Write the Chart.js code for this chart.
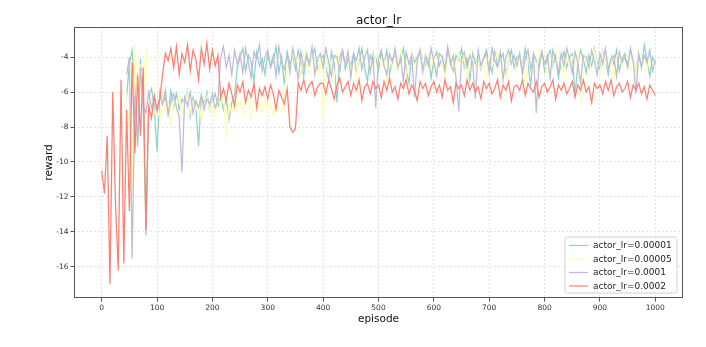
<!DOCTYPE html>
<html>
<head>
<meta charset="utf-8">
<script src="https://cdn.jsdelivr.net/npm/chart.js@4.4.1/dist/chart.umd.min.js"></script>
<style>
  html, body { margin: 0; padding: 0; background: #ffffff; }
  #wrap { width: 706px; height: 347px; position: relative; }
</style>
</head>
<body>
<div id="wrap"><canvas id="c" width="706" height="347"></canvas></div>
<script>
// ---------- DATA ----------
const chartTitle = "actor_lr";
const xLabel = "episode";
const yLabel = "reward";
const xTicks = [0, 100, 200, 300, 400, 500, 600, 700, 800, 900, 1000];
const yTicks = [-16, -14, -12, -10, -8, -6, -4];
const seriesNames = ["actor_lr=0.00001", "actor_lr=0.00005", "actor_lr=0.0001", "actor_lr=0.0002"];

// episodes sampled every 5 steps
const episodes = [];
for (let e = 0; e <= 1000; e += 5) episodes.push(e);

const lr00001 = [
  null, null, null, null, null, null, null, null, null, -6.3,
  -4.4, -3.6, -5.8, -9.1, -4.1, -6.6, -14.2, -6.2, -5.8, -6.9,
  -9.4, -6.0, -6.7, -6.3, -7.2, -5.9, -6.8, -6.1, -7.0, -6.4,
  -6.6, -5.9, -7.4, -6.3, -6.9, -9.1, -6.2, -6.7, -6.0, -7.1,
  -6.5, -6.1, -6.8, -6.3, -7.0, -6.4, -7.6, -6.6, -6.2, -4.6,
  -4.0, -3.5, -4.8, -3.9, -4.3, -5.4, -3.7, -4.5, -4.1, -5.0,
  -3.8, -4.6, -4.2, -3.4, -4.9, -4.0, -5.6, -3.7, -4.4, -3.9,
  -4.7, -3.6, -4.3, -5.1, -3.8, -4.5, -4.0, -3.5, -4.8, -4.2,
  -3.9, -4.6, -5.3, -3.7, -4.4, -6.6, -4.0, -3.6, -4.7, -4.1,
  -4.5, -3.8, -4.9, -4.2, -3.5, -4.6, -5.4, -3.9, -4.3, -4.0,
  -4.8, -3.7, -4.4, -3.6, -5.0, -4.1, -3.9, -4.6, -4.2, -3.5,
  -4.7, -5.5, -3.8, -4.3, -4.0, -3.6, -4.9, -4.4, -3.9, -5.2,
  -4.1, -3.7, -4.5, -4.0, -5.0, -3.6, -4.3, -4.8, -3.9, -4.2,
  -3.5, -4.6, -4.1, -5.3, -3.8, -4.4, -3.9, -4.7, -4.0, -3.6,
  -4.3, -4.9, -3.7, -4.5, -4.1, -3.8, -5.1, -4.2, -3.6, -4.6,
  -4.0, -3.9, -4.7, -3.5, -4.4, -5.6, -3.8, -4.2, -4.6, -3.7,
  -4.8, -4.1, -3.6, -4.5, -3.9, -5.2, -4.3, -3.7, -4.6, -4.0,
  -3.8, -6.2, -4.4, -3.6, -4.1, -4.9, -3.9, -4.5, -3.5, -4.3,
  -4.7, -3.7, -4.2, -5.0, -3.9, -4.4, -3.6, -4.8, -4.1, -3.8,
  -4.5, -3.5, -4.3, -4.9, -3.8, -4.6, -3.3, -4.2, -5.1, -4.0,
  -4.4
];

const lr00005 = [
  null, null, null, null, null, null, null, null, null, -6.0,
  -8.2, -11.7, -3.3, -6.5, -4.4, -6.3, -3.5, -7.0, -6.5, -7.2,
  -6.9, -7.5, -6.2, -7.1, -6.6, -7.8, -6.4, -6.9, -6.1, -7.3,
  -6.7, -6.0, -7.2, -6.5, -7.0, -6.3, -7.6, -6.8, -6.2, -7.1,
  -6.6, -7.4, -6.3, -6.9, -6.1, -8.7, -6.7, -7.2, -6.4, -7.0,
  -6.5, -7.3, -6.2, -6.8, -7.5, -6.4, -7.0, -6.6, -7.2, -6.3,
  -7.1, -6.7, -7.4, -6.5, -6.9, -7.2, -6.4, -4.2, -4.8, -3.7,
  -4.4, -4.0, -5.1, -3.6, -4.5, -4.9, -3.8, -4.3, -5.0, -4.1,
  -7.5, -3.9, -4.6, -4.2, -5.3, -3.7, -4.4, -4.8, -4.0, -3.6,
  -4.7, -4.3, -5.2, -3.8, -4.5, -4.1, -3.5, -4.9, -4.4, -4.0,
  -3.7, -4.6, -4.2, -5.4, -3.9, -4.5, -4.0, -4.8, -3.6, -4.3,
  -5.1, -4.1, -3.8, -4.7, -4.4, -3.5, -5.0, -4.2, -3.9, -4.6,
  -4.0, -4.8, -3.7, -4.3, -5.2, -4.1, -3.6, -4.5, -4.9, -3.8,
  -4.4, -4.0, -5.5, -3.7, -4.2, -4.7, -3.9, -4.6, -4.1, -5.0,
  -3.8, -4.5, -4.2, -3.6, -4.9, -4.3, -5.3, -3.9, -4.4, -4.0,
  -4.7, -3.7, -4.2, -5.6, -4.0, -3.8, -4.5, -4.9, -3.6, -4.3,
  -4.1, -5.0, -3.9, -4.4, -4.7, -3.5, -4.2, -5.2, -3.8, -4.6,
  -4.0, -4.5, -3.7, -6.6, -4.3, -3.9, -4.8, -4.1, -3.6, -4.4,
  -5.0, -3.8, -4.3, -4.6, -3.9, -5.3, -4.0, -3.7, -4.5, -4.2,
  -3.9, -4.7, -4.1, -5.1, -3.6, -4.4, -4.0, -4.8, -3.8, -4.5,
  -4.3
];

const lr0001 = [
  null, null, null, null, null, null, null, null, null, -5.0,
  -4.0, -15.5, -6.2, -8.8, -4.6, -6.8, -7.2, -6.0, -6.9, -6.4,
  -7.1, -6.2, -6.7, -5.9, -7.3, -6.5, -6.1, -6.9, -7.4, -10.6,
  -6.3, -6.8, -6.0, -7.2, -6.5, -6.9, -6.2, -7.0, -6.4, -6.7,
  -6.1, -6.9, -6.5, -4.0, -3.4, -4.6, -3.9, -5.0, -3.6, -4.4,
  -3.8, -4.9, -3.5, -4.3, -5.2, -3.7, -4.1, -3.3, -4.8, -4.0,
  -3.6, -4.5, -3.9, -5.1, -3.4, -4.3, -4.7, -3.8, -4.9, -3.5,
  -4.2, -5.3, -3.7, -4.6, -3.9, -4.4, -3.4, -5.0, -4.1, -3.8,
  -4.6, -3.5, -4.3, -5.1, -3.9, -4.0, -4.8, -3.6, -4.4, -3.7,
  -5.2, -3.8, -4.2, -3.5, -4.7, -4.0, -3.6, -4.9, -3.9, -6.9,
  -4.1, -3.6, -4.5, -5.0, -3.8, -4.3, -3.5, -4.6, -4.0, -5.4,
  -3.7, -4.4, -3.9, -6.3, -4.2, -3.6, -4.8, -3.9, -4.5, -3.5,
  -4.3, -5.1, -3.8, -4.0, -4.7, -3.4, -4.4, -3.9, -5.2, -7.1,
  -4.0, -3.7, -4.6, -3.9, -4.3, -6.4, -3.6, -4.5, -4.1, -3.8,
  -4.9, -3.5, -4.2, -4.6, -3.7, -5.3, -4.0, -3.6, -4.4, -3.9,
  -4.5, -3.8, -5.0, -4.1, -3.6, -4.7, -3.9, -7.2, -4.3, -3.7,
  -4.4, -3.9, -5.2, -3.6, -4.2, -4.8, -3.8, -4.5, -3.5, -4.1,
  -4.9, -3.7, -4.3, -5.5, -3.9, -4.0, -4.6, -3.6, -4.2, -5.0,
  -3.8, -4.4, -3.5, -4.7, -4.1, -3.9, -5.1, -3.7, -4.3, -4.0,
  -4.6, -3.6, -4.2, -6.1, -3.8, -4.5, -3.9, -4.3, -3.6, -4.8,
  -4.2
];

const lr0002 = [
  -10.5, -11.8, -8.5, -17.0, -6.0, -12.5, -16.2, -5.3, -15.8, -7.0,
  -12.8, -4.3, -9.5, -5.0, -8.5, -4.6, -13.9, -6.8, -7.5, -6.2,
  -7.0, -6.4, -5.0, -3.8, -4.2, -3.5, -4.6, -3.4, -5.0, -3.8,
  -4.3, -3.3, -4.8, -3.6, -4.1, -5.3, -3.5, -4.4, -3.2, -4.7,
  -3.6, -4.5, -3.9, -6.3, -5.8, -6.5, -5.5, -6.1, -6.8, -5.6,
  -6.0, -5.4, -6.6, -5.9, -6.3, -5.5, -6.9, -5.8, -6.2, -5.7,
  -6.4, -5.6, -6.1, -7.0, -5.9, -6.3, -6.7, -5.8, -8.0, -8.3,
  -8.1, -5.5, -5.9, -5.3, -6.0, -5.6, -5.4, -6.2, -5.7, -5.5,
  -5.5, -6.1, -5.3, -5.8, -6.4, -5.6, -5.2, -6.0, -5.7, -5.4,
  -6.2, -5.5, -5.9, -5.3, -6.5, -5.7, -5.5, -6.1, -5.4, -5.8,
  -5.6, -6.3, -5.4, -5.9, -5.2, -6.0, -5.7, -6.4, -5.5, -5.8,
  -5.3, -6.1, -5.6, -5.9, -6.5, -5.4, -5.8, -5.5, -6.2, -5.7,
  -5.4, -6.0, -5.6, -6.3, -5.3, -5.9, -5.7, -6.6, -5.5, -5.8,
  -5.6, -6.2, -5.3, -5.9, -5.5, -6.0, -5.7, -6.4, -5.4, -5.8,
  -5.5, -6.1, -5.8, -5.3, -6.3, -5.6, -5.9, -5.4, -6.5, -5.7,
  -5.6, -5.9, -5.3, -6.2, -5.5, -5.8, -6.0, -5.4, -6.3, -5.7,
  -5.5, -6.0, -5.7, -5.3, -6.4, -5.6, -5.9, -5.5, -6.1, -5.8,
  -5.4, -6.3, -5.6, -5.9, -5.3, -6.0, -5.7, -6.6, -5.5, -5.8,
  -5.6, -6.1, -5.4, -5.9, -5.3, -6.2, -5.7, -5.5, -6.0, -5.8,
  -5.4, -6.3, -5.6, -5.9, -5.5, -6.1, -5.7, -6.4, -5.6, -5.9,
  -6.2
];

const seriesValues = [lr00001, lr00005, lr0001, lr0002];
const seriesColors = ["#8dd3c7", "#ffffb3", "#bebada", "#fb8072"];

// ---------- CHART ----------
const FONT = '"DejaVu Sans", "Liberation Sans", sans-serif';

function toPoints(vals) {
  return episodes.map((e, i) => ({ x: e, y: vals[i] }));
}

// datasets listed in reverse so the last series (red) is drawn on top
const datasets = [];
for (let k = seriesNames.length - 1; k >= 0; k--) {
  datasets.push({
    label: seriesNames[k],
    data: toPoints(seriesValues[k]),
    borderColor: seriesColors[k],
    backgroundColor: seriesColors[k],
    borderWidth: 1.25,
    pointRadius: 0,
    tension: 0,
    fill: false
  });
}

const decor = {
  id: 'decor',
  afterDatasetsDraw(chart) {
    const ctx = chart.ctx;
    const ca = chart.chartArea;
    ctx.save();
    // frame (all four spines)
    ctx.strokeStyle = '#555555';
    ctx.lineWidth = 1;
    ctx.strokeRect(Math.round(ca.left) + 0.5, Math.round(ca.top) + 0.5,
                   Math.round(ca.right - ca.left) - 1, Math.round(ca.bottom - ca.top) - 1);
    // title
    ctx.fillStyle = '#111111';
    ctx.font = '12px ' + FONT;
    ctx.textAlign = 'center';
    ctx.textBaseline = 'alphabetic';
    ctx.fillText(chartTitle, (ca.left + ca.right) / 2, 23.5);
    // legend box
    const bw = 112, bh = 56;
    const bx = ca.right - 6 - bw, by = ca.bottom - 5 - bh;
    ctx.beginPath();
    const r = 2.5;
    ctx.moveTo(bx + r, by);
    ctx.lineTo(bx + bw - r, by); ctx.quadraticCurveTo(bx + bw, by, bx + bw, by + r);
    ctx.lineTo(bx + bw, by + bh - r); ctx.quadraticCurveTo(bx + bw, by + bh, bx + bw - r, by + bh);
    ctx.lineTo(bx + r, by + bh); ctx.quadraticCurveTo(bx, by + bh, bx, by + bh - r);
    ctx.lineTo(bx, by + r); ctx.quadraticCurveTo(bx, by, bx + r, by);
    ctx.closePath();
    ctx.fillStyle = 'rgba(255,255,255,0.85)';
    ctx.fill();
    ctx.strokeStyle = '#d0d0d0';
    ctx.lineWidth = 1;
    ctx.stroke();
    ctx.font = '9px ' + FONT;
    ctx.textAlign = 'left';
    ctx.textBaseline = 'middle';
    for (let k = 0; k < seriesNames.length; k++) {
      const yy = by + 8.5 + k * 13.5;
      ctx.strokeStyle = seriesColors[k];
      ctx.lineWidth = 1.25;
      ctx.beginPath();
      ctx.moveTo(bx + 4, yy);
      ctx.lineTo(bx + 23, yy);
      ctx.stroke();
      ctx.fillStyle = '#222222';
      ctx.fillText(seriesNames[k], bx + 28, yy + 0.5);
    }
    ctx.restore();
  }
};

new Chart(document.getElementById('c'), {
  type: 'line',
  data: { datasets: datasets },
  options: {
    responsive: false,
    animation: false,
    devicePixelRatio: 1,
    layout: { padding: { top: 27, right: 23, bottom: 0, left: 0 } },
    plugins: {
      legend: { display: false },
      title: { display: false },
      tooltip: { enabled: false }
    },
    scales: {
      x: {
        type: 'linear',
        min: -50,
        max: 1050,
        afterFit(scale) { scale.height = 49; },
        afterBuildTicks(scale) { scale.ticks = xTicks.map(v => ({ value: v })); },
        grid: {
          color: '#dcdcdc',
          lineWidth: 0.8,
          tickColor: '#555555',
          tickLength: 3.5,
          tickWidth: 1,
          tickBorderDash: []
        },
        border: { display: false, dash: [2, 2] },
        ticks: {
          color: '#333333',
          font: { family: FONT, size: 7.5 },
          padding: 2,
          maxRotation: 0,
          autoSkip: false,
          callback: (v) => String(v)
        },
        title: {
          display: true,
          text: xLabel,
          color: '#111111',
          font: { family: FONT, size: 10.5 },
          padding: { top: 0, bottom: 21.5 }
        }
      },
      y: {
        type: 'linear',
        min: -17.78,
        max: -2.28,
        afterFit(scale) { scale.width = 74; },
        afterBuildTicks(scale) { scale.ticks = yTicks.map(v => ({ value: v })); },
        grid: {
          color: '#dcdcdc',
          lineWidth: 0.8,
          tickColor: '#555555',
          tickLength: 3.5,
          tickWidth: 1,
          tickBorderDash: []
        },
        border: { display: false, dash: [2, 2] },
        ticks: {
          color: '#333333',
          font: { family: FONT, size: 7.5 },
          padding: 2,
          autoSkip: false,
          callback: (v) => String(v)
        },
        title: {
          display: true,
          text: yLabel,
          color: '#111111',
          font: { family: FONT, size: 10.5 },
          padding: { top: 42.5, bottom: 0 }
        }
      }
    }
  },
  plugins: [decor]
});
</script>
</body>
</html>
